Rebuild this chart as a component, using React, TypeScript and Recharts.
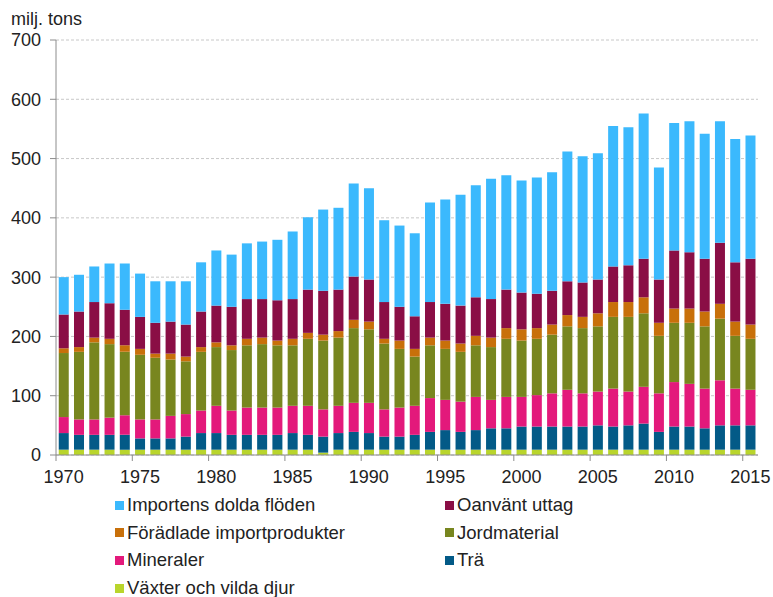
import React from 'react';
import { BarChart, Bar, XAxis, YAxis, CartesianGrid } from 'recharts';

const years = [
  1970, 1971, 1972, 1973, 1974, 1975, 1976, 1977, 1978, 1979,
  1980, 1981, 1982, 1983, 1984, 1985, 1986, 1987, 1988, 1989,
  1990, 1991, 1992, 1993, 1994, 1995, 1996, 1997, 1998, 1999,
  2000, 2001, 2002, 2003, 2004, 2005, 2006, 2007, 2008, 2009,
  2010, 2011, 2012, 2013, 2014, 2015,
];

const vaxter = [
  9, 9, 9, 9, 9, 9, 9, 9, 9, 9,
  9, 9, 9, 9, 9, 9, 9, 4, 9, 9,
  9, 9, 9, 9, 9, 9, 9, 9, 9, 9,
  9, 9, 9, 9, 9, 9, 9, 9, 9, 9,
  9, 9, 9, 9, 9, 9,
];
const tra = [
  28, 25, 25, 25, 25, 19, 19, 19, 22, 28,
  28, 25, 25, 25, 25, 28, 25, 27, 28, 30,
  28, 22, 22, 25, 30, 33, 30, 33, 36, 36,
  39, 39, 39, 39, 39, 41, 39, 41, 44, 30,
  39, 39, 36, 41, 41, 41,
];
const mineraler = [
  27, 26, 26, 29, 33, 32, 32, 38, 38, 38,
  46, 41, 46, 46, 46, 46, 49, 46, 46, 49,
  51, 46, 49, 49, 57, 51, 51, 56, 48, 53,
  50, 53, 56, 62, 56, 57, 64, 57, 62, 65,
  75, 72, 67, 76, 62, 60,
];
const jordmaterial = [
  108, 114, 130, 124, 107, 109, 104, 95, 89, 99,
  99, 102, 105, 107, 105, 102, 113, 116, 115, 126,
  124, 111, 99, 83, 89, 86, 84, 87, 89, 98,
  95, 95, 99, 107, 110, 110, 121, 126, 124, 97,
  100, 103, 105, 104, 89, 86,
];
const foradlade = [
  8, 8, 8, 9, 11, 10, 7, 10, 8, 8,
  8, 8, 11, 11, 8, 11, 10, 10, 11, 14,
  13, 8, 14, 13, 13, 14, 14, 16, 16, 18,
  19, 18, 17, 19, 19, 22, 25, 25, 27, 22,
  24, 24, 25, 25, 24, 24,
];
const oanvant = [
  57, 60, 60, 60, 60, 54, 52, 54, 54, 60,
  62, 65, 67, 65, 68, 67, 73, 74, 70, 73,
  71, 62, 57, 55, 60, 62, 64, 65, 65, 65,
  62, 58, 57, 57, 58, 57, 60, 62, 65, 73,
  98, 95, 89, 103, 100, 111,
];
const importens = [
  63, 62, 60, 67, 78, 73, 70, 68, 73, 83,
  93, 88, 94, 97, 102, 114, 122, 137, 138, 157,
  154, 138, 137, 140, 168, 176, 187, 189, 203, 193,
  189, 196, 200, 219, 213, 213, 237, 233, 245, 189,
  215, 221, 211, 205, 208, 208,
];

const yTicks = [0, 100, 200, 300, 400, 500, 600, 700];

const series = [
  { key: 'vaxter', name: 'Växter och vilda djur', color: '#B9D52C', values: vaxter },
  { key: 'tra', name: 'Trä', color: '#035A87', values: tra },
  { key: 'mineraler', name: 'Mineraler', color: '#E3197B', values: mineraler },
  { key: 'jordmaterial', name: 'Jordmaterial', color: '#78861F', values: jordmaterial },
  { key: 'foradlade', name: 'Förädlade importprodukter', color: '#C8700A', values: foradlade },
  { key: 'oanvant', name: 'Oanvänt uttag', color: '#8A0E45', values: oanvant },
  { key: 'importens', name: 'Importens dolda flöden', color: '#3BB9FD', values: importens },
];

const legendOrder = ['importens', 'oanvant', 'foradlade', 'jordmaterial', 'mineraler', 'tra', 'vaxter'];

const data = years.map((y, i) => {
  const row: Record<string, number | string> = { year: String(y) };
  series.forEach((s) => {
    row[s.key] = s.values[i];
  });
  return row;
});

const W = 773;
const H = 597;
const MARGIN = { top: 40, right: 15, left: 0, bottom: 112 };
const YAXIS_W = 56;
const XAXIS_H = 30;
const PLOT_W = W - MARGIN.left - MARGIN.right - YAXIS_W;
const STEP = PLOT_W / years.length;
const PLOT_BOTTOM = H - MARGIN.bottom - XAXIS_H;
const FONT = '"Liberation Sans", Arial, sans-serif';
const TEXT = '#222222';
const AXIS = '#8c8c8c';

const XTick = (props: any) => {
  const { x, payload } = props;
  const lx = x - STEP / 2;
  return (
    <g>
      <line x1={lx} x2={lx} y1={PLOT_BOTTOM} y2={PLOT_BOTTOM + 6} stroke={AXIS} strokeWidth={1} />
      <text
        x={x}
        y={PLOT_BOTTOM + 15}
        dy="0.71em"
        textAnchor="middle"
        fontSize={18}
        fontFamily={FONT}
        fill={TEXT}
      >
        {payload.value}
      </text>
    </g>
  );
};

export default function App() {
  return (
    <div style={{ position: 'absolute', left: 0, top: 0, width: W, height: H, background: '#fff', fontFamily: FONT }}>
      <BarChart width={W} height={H} data={data} margin={MARGIN} barCategoryGap="18%">
        <CartesianGrid vertical={false} stroke="#c8c8c8" strokeDasharray="3 2" />
        <XAxis
          dataKey="year"
          height={XAXIS_H}
          interval={4}
          tick={<XTick />}
          tickLine={false}
          axisLine={{ stroke: AXIS }}
        />
        <YAxis
          width={YAXIS_W}
          domain={[0, 700]}
          ticks={yTicks}
          interval={0}
          tickSize={6}
          tickMargin={9}
          tickLine={{ stroke: AXIS }}
          axisLine={{ stroke: AXIS }}
          tick={{ fontSize: 18, fontFamily: FONT, fill: TEXT }}
        />
        {series.map((s) => (
          <Bar key={s.key} dataKey={s.key} name={s.name} stackId="a" fill={s.color} isAnimationActive={false} />
        ))}
      </BarChart>
      <div style={{ position: 'absolute', left: 11, top: 9, fontSize: 18, color: TEXT, lineHeight: '20px' }}>milj. tons</div>
      <div style={{ position: 'absolute', left: 115, top: 491, width: 560 }}>
        {legendOrder.map((k, i) => {
          const s = series.find((q) => q.key === k)!;
          const col = i % 2;
          const row = Math.floor(i / 2);
          return (
            <div
              key={k}
              style={{
                position: 'absolute',
                left: col === 0 ? 0 : 330,
                top: row * 27.7,
                height: 28,
                display: 'flex',
                alignItems: 'center',
                whiteSpace: 'nowrap',
                fontSize: 18.5,
                color: TEXT,
              }}
            >
              <span style={{ display: 'inline-block', width: 9, height: 9, background: s.color, marginRight: 3 }} />
              <span>{s.name}</span>
            </div>
          );
        })}
      </div>
    </div>
  );
}
